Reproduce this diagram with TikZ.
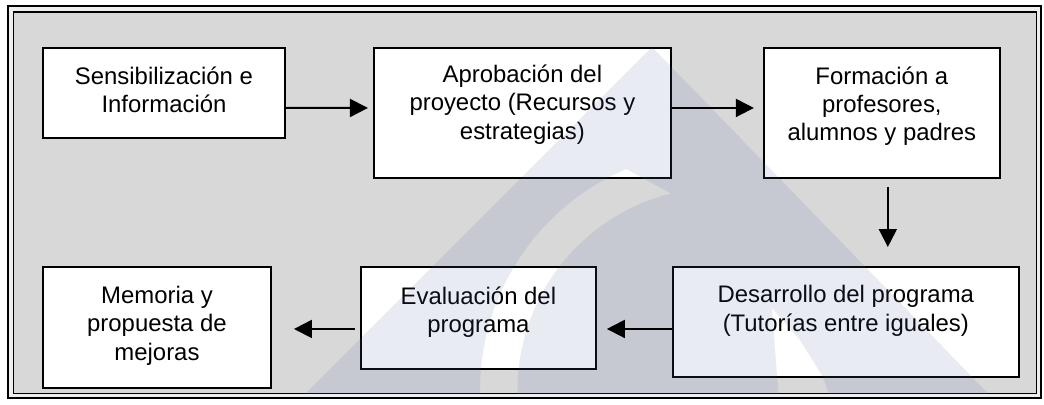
\documentclass[tikz,border=0pt]{standalone}
\usepackage{fontspec}
\setmainfont{Liberation Sans}
\usetikzlibrary{positioning, arrows.meta}
\definecolor{panel}{HTML}{D8D8D8}
\definecolor{rim}{HTML}{EEEEEE}
\definecolor{tint}{RGB}{78,101,162}

\begin{document}
\begin{tikzpicture}[font=\fontsize{13.6}{16.1}\selectfont,
  stage/.style={rectangle, draw=black, line width=1.1pt, fill=white, align=center, inner sep=0pt},
  arrow/.style={-{Triangle[length=0.36cm, width=0.36cm]}, line width=1.1pt},
  wm/.style={fill=tint, fill opacity=0.13}
]
\useasboundingbox (0,0) rectangle (20.88,8.08);

% double frame
\draw[line width=1.2pt, fill=rim] (0.16,0.114) rectangle (20.826,7.956);
\draw[line width=0.9pt, fill=panel] (0.274,0.214) rectangle (20.726,7.844);

% top row
\node[stage, anchor=north west, minimum width=4.84cm, minimum height=1.8cm, text depth=0.14cm] (sens) at (0.84,7.14) {Sensibilización e\\Información};
\node[stage, right=1.74cm of sens.north east, anchor=north west, minimum width=5.94cm, minimum height=2.6cm, text depth=0.44cm] (apro) {Aprobación del\\proyecto (Recursos y\\estrategias)};
\node[stage, right=1.82cm of apro.north east, anchor=north west, minimum width=4.72cm, minimum height=2.6cm, text depth=0.37cm] (form) {Formación a\\profesores,\\alumnos y padres};

% bottom row
\node[stage, below=4.38cm of apro.north east, anchor=north west, minimum width=6.92cm, minimum height=2.2cm, text depth=0.54cm] (desa) {Desarrollo del programa\\(Tutorías entre iguales)};
\node[stage, left=1.5cm of desa.north west, anchor=north east, minimum width=4.7cm, minimum height=2.04cm, text depth=0.34cm] (eval) {Evaluación del\\programa};
\node[stage, left=1.76cm of eval.north west, anchor=north east, minimum width=4.56cm, minimum height=2.42cm, text depth=0.17cm] (memo) {Memoria y\\propuesta de\\mejoras};

% watermark
\begin{scope}
  \clip (0.274,0.214) rectangle (20.726,7.844);
  \fill[wm, even odd rule] (13.04,7.14) -- (21.42,-1.5) -- (4.4,-1.5) -- cycle
    (9.89,-1.36) arc[start angle=200, end angle=113, radius=4.8] -- (13.42,4.21)
      arc[start angle=104, end angle=200, radius=4.05] -- cycle
    (15.44,1.92) -- (16.0,1.28) -- (16.46,0.54) -- (16.7,-0.2) -- (15.6,-0.2) -- (15.5,1.08) -- cycle;
\end{scope}

\draw[arrow, shorten >=0.1cm] ([yshift=-0.3cm]sens.east) -- ([yshift=0.1cm]apro.west);
\draw[arrow, shorten >=0.18cm] ([yshift=0.1cm]apro.east) -- ([yshift=0.1cm]form.west);
\draw[arrow, shorten <=0.16cm, shorten >=0.38cm] ([xshift=0.12cm]form.south) -- ([xshift=0.12cm]form.south |- desa.north);
\draw[arrow, shorten >=0.2cm] ([yshift=-0.14cm]desa.west) -- ([yshift=-0.22cm]eval.east);
\draw[arrow, shorten <=0.1cm, shorten >=0.44cm] ([yshift=-0.22cm]eval.west) -- ([yshift=-0.03cm]memo.east);

\end{tikzpicture}
\end{document}
